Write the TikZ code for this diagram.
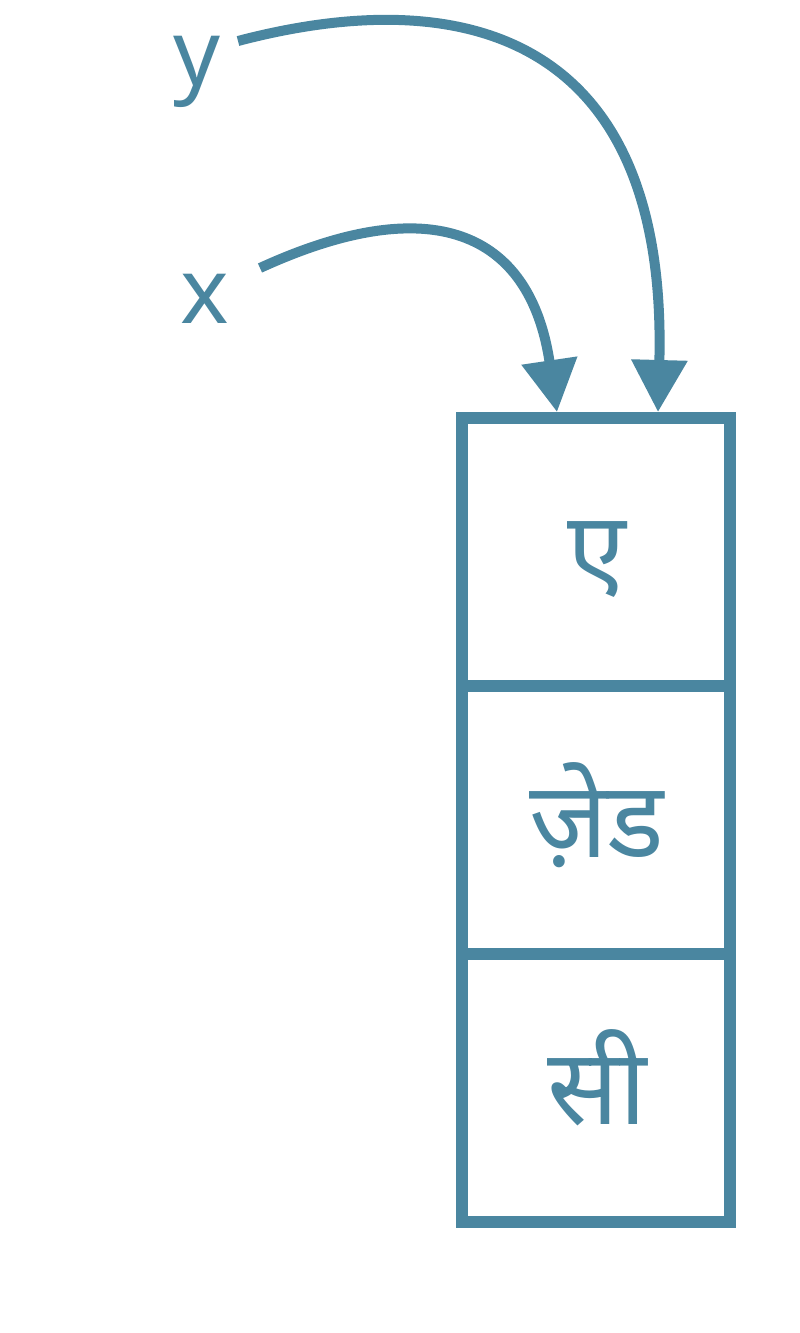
\documentclass[tikz,border=0pt]{standalone}
\usepackage{fontspec}
\setmainfont{Noto Sans}
\newfontfamily\devfont[Script=Devanagari]{Noto Sans}
\usetikzlibrary{arrows.meta}
\definecolor{steel}{HTML}{4A86A0}
\begin{document}
\begin{tikzpicture}[x=1pt,y=-1pt,
  cell/.style={draw=steel,line width=12pt,minimum width=268pt,minimum height=268pt,inner sep=0pt,outer sep=0pt},
  celltext/.style={text=steel,font=\devfont\fontsize{106}{110}\selectfont,inner sep=0pt},
  lbl/.style={text=steel,font=\fontsize{92}{100}\selectfont,inner sep=0pt},
  conn/.style={draw=steel,line width=10pt,-{Triangle[width=54pt,length=52pt]}}]
\useasboundingbox (0,0) rectangle (800,1333);
\node[cell] (c1) at (596,552) {};
\node[cell] (c2) at (596,820) {};
\node[cell] (c3) at (596,1088) {};
\node[celltext,anchor=base] (t1) at (597,587) {ए};
\node[celltext,anchor=base] (t2) at (597,857) {ज़ेड};
\node[celltext,anchor=base] (t3) at (597,1124) {सी};
\node[lbl,anchor=base] (y) at (197,85) {y};
\node[lbl,anchor=base] (x) at (205,323) {x};
\coordinate (ys) at (238,41);
\coordinate (xs) at (260,268);
\coordinate (yt) at (658,412);
\coordinate (xt) at (557,412);
\draw[conn] (ys) .. controls (470,-20) and (668,40) .. (yt);
\draw[conn] (xs) .. controls (430,190) and (530,230) .. (xt);
\end{tikzpicture}
\end{document}
